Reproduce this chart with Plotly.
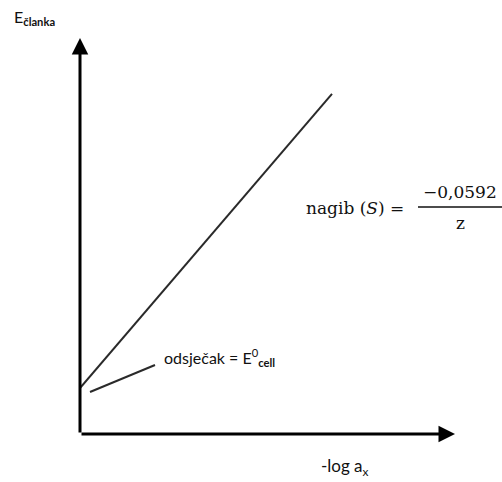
import plotly.graph_objects as go

# ---- data (abstract units) ----
x_vals = [0.0, 6.72]          # -log a_x
E_vals = [1.16, 8.59]         # E_cell
x_range = [0, 10]
y_range = [0, 10]

y_label_main = "E"
y_label_sub = "članka"
x_label = "-log a<sub>x</sub>"
intercept_label = "odsječak = E<sup>0</sup><sub><b>cell</b></sub>"
slope_label = "nagib (<i>S</i>) ="
slope_num = "−0,0592"
slope_den = "z"

W, H = 502, 482
L, R, T, B = 80, 47, 38, 48
PW, PH = W - L - R, H - T - B


def px(xp):
    return (xp - L) / PW


def py(yp):
    return (H - B - yp) / PH


fig = go.Figure()
fig.add_trace(go.Scatter(x=x_vals, y=E_vals, mode="lines",
                         line=dict(color="#2a2a2a", width=2),
                         hoverinfo="skip", showlegend=False))

ann = []
# axes as arrows
ann.append(dict(x=x_range[1], y=y_range[0], ax=x_range[0], ay=y_range[0],
                xref="x", yref="y", axref="x", ayref="y", text="",
                showarrow=True, arrowhead=2, arrowsize=1.1, arrowwidth=3,
                arrowcolor="black"))
ann.append(dict(x=x_range[0], y=y_range[1], ax=x_range[0], ay=y_range[0],
                xref="x", yref="y", axref="x", ayref="y", text="",
                showarrow=True, arrowhead=2, arrowsize=1.1, arrowwidth=3,
                arrowcolor="black"))

sans = "Lato, 'Open Sans', sans-serif"
serif = "'DejaVu Serif', serif"

ann.append(dict(x=px(12), y=py(17), xref="paper", yref="paper",
                xanchor="left", yanchor="middle", showarrow=False,
                text=y_label_main + "<sub><b>" + y_label_sub + "</b></sub>",
                font=dict(family=sans, size=16, color="#111")))
ann.append(dict(x=px(319), y=py(467), xref="paper", yref="paper",
                xanchor="left", yanchor="middle", showarrow=False,
                text=x_label, font=dict(family=sans, size=17, color="#111")))
ann.append(dict(x=px(162), y=py(357), xref="paper", yref="paper",
                xanchor="left", yanchor="middle", showarrow=False,
                text=intercept_label,
                font=dict(family=sans, size=16, color="#111")))
ann.append(dict(x=px(304), y=py(208), xref="paper", yref="paper",
                xanchor="left", yanchor="middle", showarrow=False,
                text=slope_label, font=dict(family=serif, size=17, color="#111")))
ann.append(dict(x=px(460), y=py(192), xref="paper", yref="paper",
                xanchor="center", yanchor="middle", showarrow=False,
                text=slope_num, font=dict(family=serif, size=17, color="#111")))
ann.append(dict(x=px(460), y=py(223), xref="paper", yref="paper",
                xanchor="center", yanchor="middle", showarrow=False,
                text=slope_den, font=dict(family=serif, size=17, color="#111")))

shapes = [
    # fraction bar
    dict(type="line", xref="paper", yref="paper",
         x0=px(418), x1=px(502), y0=py(207), y1=py(207),
         line=dict(color="#111", width=1.5)),
    # leader line for intercept label
    dict(type="line", xref="paper", yref="paper",
         x0=px(90), y0=py(392), x1=px(155), y1=py(365),
         line=dict(color="#2a2a2a", width=2)),
]

fig.update_layout(
    width=W, height=H,
    margin=dict(l=L, r=R, t=T, b=B),
    paper_bgcolor="white", plot_bgcolor="white",
    xaxis=dict(range=x_range, visible=False, fixedrange=True),
    yaxis=dict(range=y_range, visible=False, fixedrange=True),
    annotations=ann, shapes=shapes, showlegend=False,
)

fig.write_html("out.html", config={"displayModeBar": False},
               post_script="document.body.style.margin='0';")
